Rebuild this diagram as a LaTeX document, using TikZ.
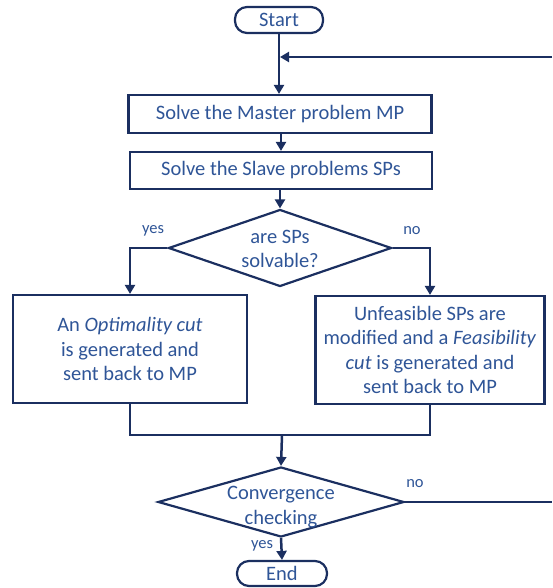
\documentclass[tikz,border=0pt]{standalone}
\usepackage{fontspec}
\setmainfont{Carlito}
\usetikzlibrary{shapes.geometric,arrows.meta}
\definecolor{linecol}{HTML}{1B2F60}
\definecolor{textcol}{HTML}{2F5597}
\begin{document}
\begin{tikzpicture}[x=1pt,y=-1pt,
  every node/.style={text=textcol,font=\fontsize{20.5}{24.5}\selectfont,align=center,inner sep=0pt},
  edge/.style={draw=linecol,line width=2.5pt},
  arr/.style={edge,-{Triangle[width=10pt,length=9pt]}},
  procbox/.style={draw=linecol,line width=2.2pt,rectangle},
  termbox/.style={draw=linecol,line width=2.2pt,rectangle,rounded corners=12pt},
  decision/.style={draw=linecol,line width=2.2pt,diamond},
  tag/.style={font=\fontsize{16.5}{20}\selectfont}]
\useasboundingbox (0,0) rectangle (552,588);

% terminals and process boxes
\node[termbox,minimum width=88pt,minimum height=26pt] (start) at (279,20) {Start};
\node[procbox,minimum width=303pt,minimum height=38pt] (master) at (280,114) {Solve the Master problem MP};
\node[procbox,minimum width=302pt,minimum height=37pt] (slave) at (281,170.5) {Solve the Slave problems SPs};
\node[decision,minimum width=223pt,minimum height=77pt,
      label={[align=center,yshift=-1pt]center:are SPs\\solvable?}] (d1) at (280,248) {};
\node[procbox,minimum width=234pt,minimum height=108pt] (opt) at (130,349)
  {An \textit{Optimality cut}\\is generated and\\sent back to MP};
\node[procbox,minimum width=229pt,minimum height=108pt] (feas) at (430,350)
  {Unfeasible SPs are\\modified and a \textit{Feasibility}\\\textit{cut} is generated and\\sent back to MP};
\node[decision,minimum width=246pt,minimum height=70pt,
      label={[align=center,yshift=-5pt]center:Convergence\\checking}] (d2) at (281,502) {};
\node[termbox,minimum width=90pt,minimum height=25pt] (end) at (282,573.5) {End};

% branch labels
\node[tag] (yes1) at (153,231) {yes};
\node[tag] (no1) at (412,231) {no};
\node[tag] (no2) at (415,484) {no};
\node[tag] (yes2) at (262,546) {yes};

\coordinate (merge) at (282,435);
\coordinate (loopbot) at (552,502);
\coordinate (looptop) at (552,57);

% connectors
\draw[arr] (start.south) -- (master.north -| start.south);
\draw[arr] (looptop) -- ([xshift=1pt]looptop -| start.south);
\draw[arr] (master.south -| slave.north) -- (slave.north);
\draw[arr] (slave.south -| d1.north) -- (d1.north);
\draw[arr] (d1.west) -| (opt.north);
\draw[arr] (d1.east) -| (feas.north);
\draw[edge] (opt.south) |- (merge) -| (feas.south);
\draw[arr] (merge) -- (d2.north);
\draw[edge] (d2.east) -- (loopbot);
\draw[arr] (d2.south) -- (end.north);
\end{tikzpicture}
\end{document}
